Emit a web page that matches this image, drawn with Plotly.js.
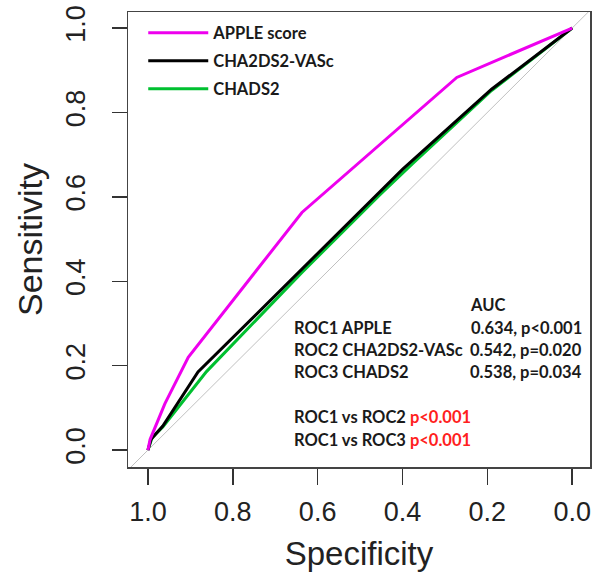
<!DOCTYPE html>
<html>
<head>
<meta charset="utf-8">
<script src="https://cdn.plot.ly/plotly-3.0.1.min.js"></script>
<style>html,body{margin:0;padding:0;background:#fff;}#chart{width:602px;height:587px;}</style>
</head>
<body>
<div id="chart"></div>
<script>
// ROC curve data (specificity, sensitivity)
const appleSpec = [1.0, 0.995, 0.96, 0.905, 0.637, 0.272, 0.0];
const appleSens = [0.0, 0.025, 0.11, 0.22, 0.563, 0.883, 1.0];

const chaVascSpec = [1.0, 0.993, 0.965, 0.882, 0.40, 0.19, 0.0];
const chaVascSens = [0.0, 0.025, 0.057, 0.185, 0.665, 0.855, 1.0];

const chadsSpec = [1.0, 0.99, 0.965, 0.862, 0.637, 0.453, 0.375, 0.19, 0.0];
const chadsSens = [0.0, 0.03, 0.055, 0.186, 0.421, 0.605, 0.68, 0.852, 1.0];

const chanceLine = [-0.1, 1.1];

const seriesNames = ["APPLE score", "CHA2DS2-VASc", "CHADS2"];
const xTickVals = [1.0, 0.8, 0.6, 0.4, 0.2, 0.0];
const xTickText = ["1.0", "0.8", "0.6", "0.4", "0.2", "0.0"];
const yTickVals = [0.0, 0.2, 0.4, 0.6, 0.8, 1.0];
const yTickText = ["0.0", "0.2", "0.4", "0.6", "0.8", "1.0"];

const rocLabels = ["ROC1 APPLE", "ROC2 CHA2DS2-VASc", "ROC3 CHADS2"];
const aucTexts = ["0.634, p<0.001", "0.542, p=0.020", "0.538, p=0.034"];
const compLabels = ["ROC1 vs ROC2 ", "ROC1 vs ROC3 "];
const compP = ["p<0.001", "p<0.001"];

const boldFont = {family: "Lato, 'Open Sans', sans-serif", size: 16.5, color: "#1a1a1a", weight: 700};

const traces = [
  {x: chanceLine, y: chanceLine.map(v => 1 - v), mode: "lines", showlegend: false, hoverinfo: "skip",
   line: {color: "#c0c0c0", width: 1}},
  {x: chadsSpec, y: chadsSens, mode: "lines", name: seriesNames[2], legendrank: 3, legendgroup: "c",
   line: {color: "#00c030", width: 3}},
  {x: chaVascSpec, y: chaVascSens, mode: "lines", name: seriesNames[1], legendrank: 2, legendgroup: "b",
   line: {color: "#000000", width: 3}},
  {x: appleSpec, y: appleSens, mode: "lines", name: seriesNames[0], legendrank: 1, legendgroup: "a",
   line: {color: "#ee00ee", width: 3}}
];

// Annotation text positions (data coordinates)
const annX_left = 0.66, annX_right = -0.027, annX_auc = 0.2;
const annY_auc = 0.345;
const annY_rows = [0.289, 0.237, 0.185];
const annY_comp = [0.078, 0.024];

const annotations = [];
annotations.push({x: annX_auc, y: annY_auc, xref: "x", yref: "y", text: "AUC", showarrow: false,
  xanchor: "center", yanchor: "middle", font: boldFont});
rocLabels.forEach((t, i) => {
  annotations.push({x: annX_left, y: annY_rows[i], xref: "x", yref: "y", text: t, showarrow: false,
    xanchor: "left", yanchor: "middle", font: boldFont});
  annotations.push({x: annX_right, y: annY_rows[i], xref: "x", yref: "y", text: aucTexts[i], showarrow: false,
    xanchor: "right", yanchor: "middle", font: boldFont});
});
compLabels.forEach((t, i) => {
  annotations.push({x: annX_left, y: annY_comp[i], xref: "x", yref: "y",
    text: t + '<span style="color:#ff2020">' + compP[i] + '</span>', showarrow: false,
    xanchor: "left", yanchor: "middle", font: boldFont});
});

const axisFont = {family: "'Liberation Sans', Arial, sans-serif", size: 27, color: "#222"};

const layout = {
  width: 602, height: 587,
  margin: {l: 128, r: 12, t: 12, b: 120, pad: 0},
  paper_bgcolor: "#fff", plot_bgcolor: "#fff",
  showlegend: true,
  legend: {x: 0.033, y: 0.992, xanchor: "left", yanchor: "top", bgcolor: "rgba(0,0,0,0)",
    font: boldFont, itemwidth: 60, traceorder: "grouped", tracegroupgap: 3.5},
  xaxis: {range: [1.047, -0.042], tickvals: xTickVals, ticktext: xTickText,
    ticks: "outside", ticklen: 16, tickwidth: 1.5, tickcolor: "#333",
    showline: true, mirror: true, linecolor: "#444", linewidth: 1.5,
    showgrid: false, zeroline: false, tickfont: axisFont, ticklabelstandoff: 4,
    title: {text: "Specificity", font: {family: axisFont.family, size: 33, color: "#222"}, standoff: 16},
    automargin: false, fixedrange: true},
  yaxis: {range: [-0.04, 1.038], tickvals: yTickVals, ticktext: yTickText,
    ticks: "outside", ticklen: 15, tickwidth: 1.5, tickcolor: "#333",
    showline: true, mirror: true, linecolor: "#444", linewidth: 1.5,
    showgrid: false, zeroline: false, tickfont: axisFont, tickangle: -90, ticklabelstandoff: 16,
    title: {text: "Sensitivity", font: {family: axisFont.family, size: 34, color: "#222"}, standoff: 8},
    automargin: false, fixedrange: true},
  annotations: annotations
};

Plotly.newPlot("chart", traces, layout, {displayModeBar: false, staticPlot: true});
</script>
</body>
</html>
